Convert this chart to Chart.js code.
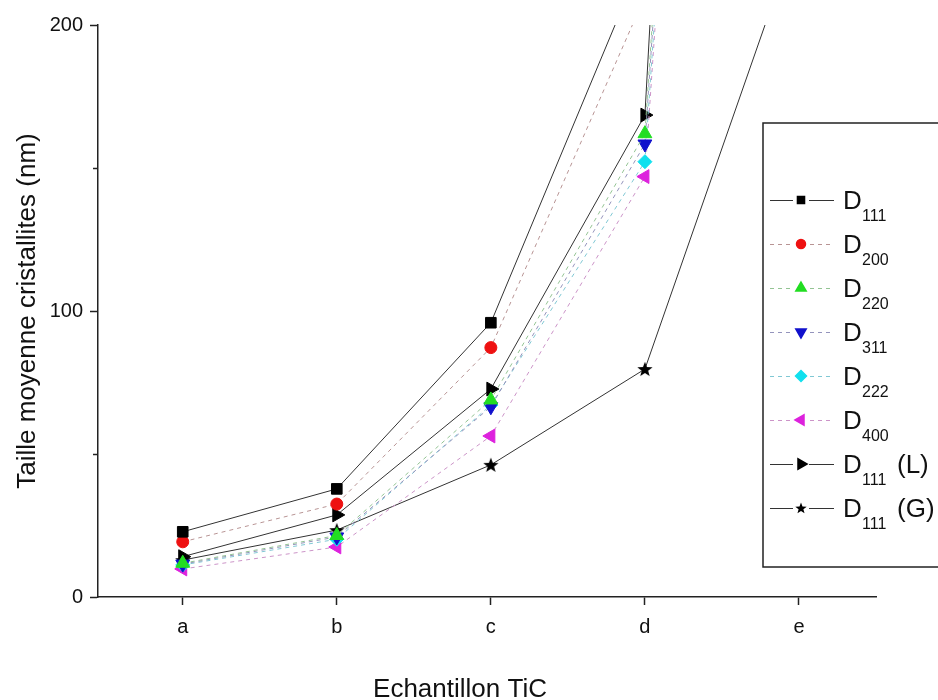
<!DOCTYPE html>
<html><head><meta charset="utf-8">
<script src="https://cdn.jsdelivr.net/npm/chart.js@4/dist/chart.umd.min.js"></script>
<style>html,body{margin:0;padding:0;background:#fff;}#wrap{width:938px;height:700px;position:relative;}</style>
</head><body><div id="wrap"><canvas id="c" width="938" height="700"></canvas></div>
<script>
// ---- data ----
const categories = ['a', 'b', 'c', 'd', 'e'];
const xPositions = [1, 2, 3, 4, 5];
const d111  = [22.8, 37.8, 95.9, 225, null];
const d200  = [19.3, 32.5, 87.2, 210, null];
const d220  = [11.8, 21.5, 68.9, 162, 970];
const d311  = [11.5, 21.0, 66.5, 158.4, 960];
const d222  = [11.2, 20.2, 67.1, 152.2, 950];
const d400  = [9.8, 17.5, 56.3, 147, 940];
const d111L = [14.1, 28.7, 72.7, 168.5, 1140];
const d111G = [12.9, 23.4, 46.2, 79.7, 234];
const legendBase = ['D', 'D', 'D', 'D', 'D', 'D', 'D', 'D'];
const legendSubs = ['111', '200', '220', '311', '222', '400', '111', '111'];
const legendSuffix = ['', '', '', '', '', '', '(L)', '(G)'];
const yMajorTicks = [0, 100, 200];
const yMinorTicks = [50, 150];
const yTitle = 'Taille moyenne cristallites (nm)';
const xTitle = 'Echantillon TiC';

const FONT = "'Liberation Sans', Arial, sans-serif";

function starCanvas(size) {
  const c = document.createElement('canvas');
  c.width = c.height = size;
  const g = c.getContext('2d');
  g.fillStyle = '#000';
  g.beginPath();
  const cx = size / 2, cy = size / 2 + size * 0.04, R = size / 2, r = R * 0.42;
  for (let i = 0; i < 10; i++) {
    const a = -Math.PI / 2 + i * Math.PI / 5;
    const rr = i % 2 ? r : R;
    g.lineTo(cx + rr * Math.cos(a), cy + rr * Math.sin(a));
  }
  g.closePath(); g.fill();
  return c;
}
const starBig = starCanvas(16);
const starSmall = starCanvas(12);

function pts(arr) { return arr.map((v, i) => ({ x: xPositions[i], y: v })); }

const seriesStyles = [
  { data: d111,  line: '#333333', dash: [],     marker: '#000000', style: 'rect',     radius: 7.5, rot: 0,   lr: 5 },
  { data: d200,  line: '#b89494', dash: [4, 4], marker: '#ee1111', style: 'circle',   radius: 6,   rot: 0,   lr: 4.5 },
  { data: d220,  line: '#94c494', dash: [4, 4], marker: '#22dd22', style: 'triangle', radius: 8,   rot: 0,   lr: 6 },
  { data: d311,  line: '#9494bc', dash: [4, 4], marker: '#1010cc', style: 'triangle', radius: 8,   rot: 180, lr: 6 },
  { data: d222,  line: '#80c8d4', dash: [4, 4], marker: '#11e0ee', style: 'rectRot',  radius: 7,   rot: 0,   lr: 5.5 },
  { data: d400,  line: '#cc94c8', dash: [4, 4], marker: '#dd22dd', style: 'triangle', radius: 8,   rot: 270, lr: 6 },
  { data: d111L, line: '#333333', dash: [],     marker: '#000000', style: 'triangle', radius: 8,   rot: 90,  lr: 6 },
  { data: d111G, line: '#333333', dash: [],     marker: '#000000', style: starBig,    radius: 8,   rot: 0,   lr: 6, legendImg: starSmall }
];

const datasets = seriesStyles.map((s, i) => ({
  label: legendBase[i] + legendSubs[i] + (legendSuffix[i] ? ' ' + legendSuffix[i] : ''),
  data: pts(s.data),
  borderColor: s.line,
  borderWidth: 1,
  borderDash: s.dash,
  pointStyle: s.style,
  pointRadius: s.radius,
  pointRotation: s.rot,
  pointBackgroundColor: s.marker,
  pointBorderColor: s.marker,
  pointBorderWidth: 1,
  fill: false,
  tension: 0,
  spanGaps: false
}));

const overlay = {
  id: 'overlay',
  afterDraw(chart) {
    const ctx = chart.ctx;
    const ys = chart.scales.y, xs = chart.scales.x;
    ctx.save();
    // minor ticks on y axis
    ctx.strokeStyle = '#222'; ctx.lineWidth = 1.5;
    yMinorTicks.forEach(v => {
      const py = Math.round(ys.getPixelForValue(v)) + 0.5;
      ctx.beginPath(); ctx.moveTo(ys.right - 5, py); ctx.lineTo(ys.right, py); ctx.stroke();
    });
    // x title
    ctx.fillStyle = '#111';
    ctx.font = '26px ' + FONT;
    ctx.textAlign = 'center'; ctx.textBaseline = 'alphabetic';
    ctx.fillText(xTitle, 460, 697);
    // legend box
    const bx = 763, by = 123, bw = 200, bh = 444;
    ctx.fillStyle = '#fff';
    ctx.fillRect(bx, by, bw, bh);
    ctx.strokeStyle = '#222'; ctx.lineWidth = 1.5;
    ctx.strokeRect(bx, by, bw, bh);
    seriesStyles.forEach((s, i) => {
      const ry = 200 + i * 44;
      ctx.save();
      ctx.strokeStyle = s.line; ctx.lineWidth = 1;
      ctx.setLineDash(s.dash);
      ctx.beginPath(); ctx.moveTo(770, ry + 0.5); ctx.lineTo(834, ry + 0.5); ctx.stroke();
      ctx.setLineDash([]);
      ctx.restore();
      ctx.fillStyle = '#fff';
      ctx.fillRect(801 - 8, ry - 8, 16, 16);
      ctx.fillStyle = s.marker; ctx.strokeStyle = s.marker;
      Chart.helpers.drawPoint(ctx, {
        pointStyle: s.legendImg || s.style, radius: s.lr, rotation: s.rot, borderWidth: 1
      }, 801, ry);
      ctx.fillStyle = '#111';
      ctx.textAlign = 'left'; ctx.textBaseline = 'alphabetic';
      ctx.font = '26px ' + FONT;
      ctx.fillText(legendBase[i], 843, ry + 9);
      ctx.font = '16px ' + FONT;
      ctx.fillText(legendSubs[i], 862, ry + 21);
      if (legendSuffix[i]) {
        ctx.font = '26px ' + FONT;
        ctx.fillText(legendSuffix[i], 897, ry + 9);
      }
    });
    ctx.restore();
  }
};

new Chart(document.getElementById('c'), {
  type: 'line',
  data: { datasets },
  options: {
    responsive: false,
    animation: false,
    devicePixelRatio: 1,
    layout: { padding: { top: 25, right: 62, left: 0, bottom: 0 } },
    plugins: { legend: { display: false }, tooltip: { enabled: false } },
    scales: {
      x: {
        type: 'linear',
        min: 0.45, max: 5.5,
        afterBuildTicks: (s) => { s.ticks = xPositions.map(v => ({ value: v })); },
        afterFit: (s) => { s.height = 103; },
        ticks: {
          callback: (v) => categories[xPositions.indexOf(v)] ?? '',
          color: '#111', font: { size: 20, family: FONT }, padding: 10, maxRotation: 0, autoSkip: false
        },
        grid: { drawOnChartArea: false, drawTicks: true, tickLength: 8, tickWidth: 1.5, tickColor: '#222' },
        border: { display: true, color: '#222', width: 1.5 },
        title: { display: false }
      },
      y: {
        type: 'linear',
        min: 0, max: 200,
        afterBuildTicks: (s) => { s.ticks = yMajorTicks.map(v => ({ value: v })); },
        afterFit: (s) => { s.width = 98; },
        ticks: { color: '#111', font: { size: 20, family: FONT }, padding: 7 },
        grid: { drawOnChartArea: false, drawTicks: true, tickLength: 8, tickWidth: 1.5, tickColor: '#222' },
        border: { display: true, color: '#222', width: 1.5 },
        title: { display: true, text: yTitle, color: '#111', font: { size: 26, family: FONT }, padding: { top: 12, bottom: 0 } }
      }
    }
  },
  plugins: [overlay]
});
</script></body></html>
